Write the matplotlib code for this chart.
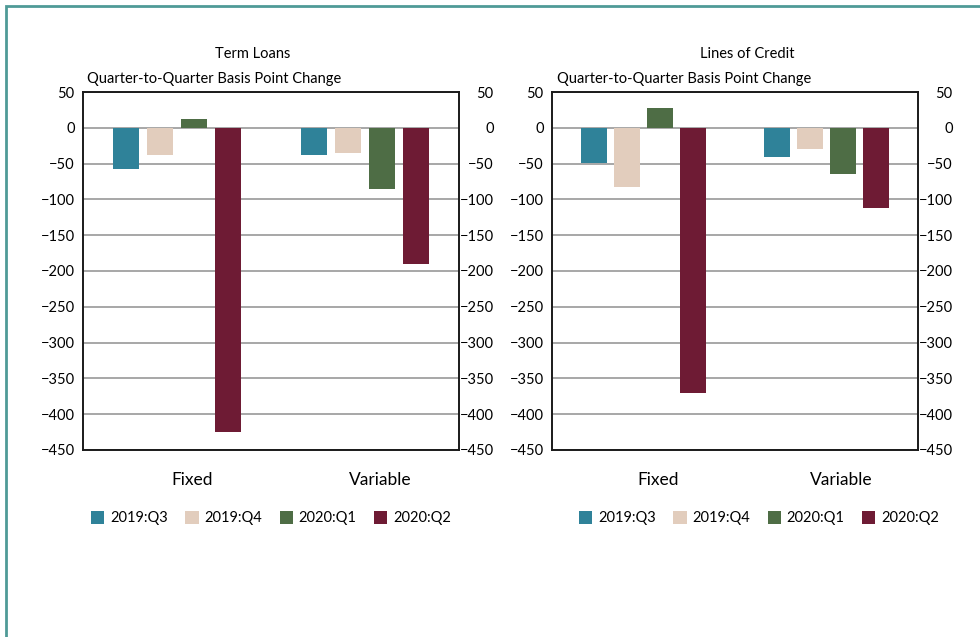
import matplotlib
matplotlib.use('Agg')
import matplotlib.pyplot as plt
from matplotlib.patches import Rectangle, Patch
import numpy as np

plt.rcParams['font.family'] = ['Lato', 'DejaVu Sans']

categories = ['Fixed', 'Variable']
quarters = ['2019:Q3', '2019:Q4', '2020:Q1', '2020:Q2']
colors = ['#2f8299', '#e2cdbd', '#4e6d45', '#6e1b34']

# basis point changes, one list per quarter: [Fixed, Variable]
term_q3 = [-57, -38]
term_q4 = [-38, -35]
term_q1 = [12, -86]
term_q2 = [-425, -190]

loc_q3 = [-49, -41]
loc_q4 = [-83, -30]
loc_q1 = [28, -64]
loc_q2 = [-371, -112]

yticks = list(range(50, -451, -50))

fig = plt.figure(figsize=(9.8, 6.37), dpi=100)

# outer frame
fig.patches.append(Rectangle((6 / 980, -0.05), 1.1, 1 - 6 / 637 + 0.05,
                             transform=fig.transFigure, fill=False,
                             edgecolor='#4f9a97', linewidth=2))


def panel(rect, series, title, title_x, sub_x, leg_x):
    ax = fig.add_axes(rect)
    x = np.arange(len(categories))
    width = 0.138
    step = 0.18
    for i, (vals, c) in enumerate(zip(series, colors)):
        ax.bar(x + (i - 1.5) * step, vals, width, color=c, zorder=3)
    ax.set_xlim(-0.5, 1.5)
    ax.set_ylim(-450, 50)
    ax.set_yticks(yticks)
    ax.set_yticklabels([str(v).replace('-', '\u2212') for v in yticks])
    ax.yaxis.grid(True, color='#8f8f8f', linewidth=1.1, zorder=0)
    ax.set_xticks(x + 0.08)
    ax.set_xticklabels(categories, fontsize=12.5)
    ax.tick_params(axis='x', length=0, pad=16)
    ax.tick_params(axis='y', length=0, labelsize=10.5, pad=6)
    for s in ax.spines.values():
        s.set_color('#1a1a1a')
        s.set_linewidth(1.4)
        s.set_zorder(4)
    ax2 = ax.twinx()
    ax2.set_ylim(-450, 50)
    ax2.set_yticks(yticks)
    ax2.set_yticklabels([str(v).replace('-', '\u2212') for v in yticks])
    ax2.tick_params(axis='y', length=0, labelsize=10.5, pad=25)
    for lab in ax2.get_yticklabels():
        lab.set_horizontalalignment('right')
    for s in ax2.spines.values():
        s.set_visible(False)

    fig.text(title_x, 1 - 54 / 637, title, ha='center', va='center', fontsize=10.5)
    fig.text(sub_x, 1 - 79 / 637, 'Quarter-to-Quarter Basis Point Change',
             ha='left', va='center', fontsize=10.5)
    handles = [Patch(facecolor=c, label=q) for c, q in zip(colors, quarters)]
    fig.legend(handles=handles, loc='center', ncol=4, frameon=False,
               bbox_to_anchor=(leg_x, 1 - 518 / 637), fontsize=10.5,
               handlelength=0.9, handleheight=1.0, handletextpad=0.4,
               columnspacing=1.2)
    return ax


panel([83 / 980, 1 - 450 / 637, 376 / 980, 358 / 637],
      [term_q3, term_q4, term_q1, term_q2], 'Term Loans',
      253 / 980, 87 / 980, 271 / 980)
panel([552 / 980, 1 - 450 / 637, 366 / 980, 358 / 637],
      [loc_q3, loc_q4, loc_q1, loc_q2], 'Lines of Credit',
      747 / 980, 557 / 980, 759 / 980)

fig.savefig('out.png', dpi=100)
